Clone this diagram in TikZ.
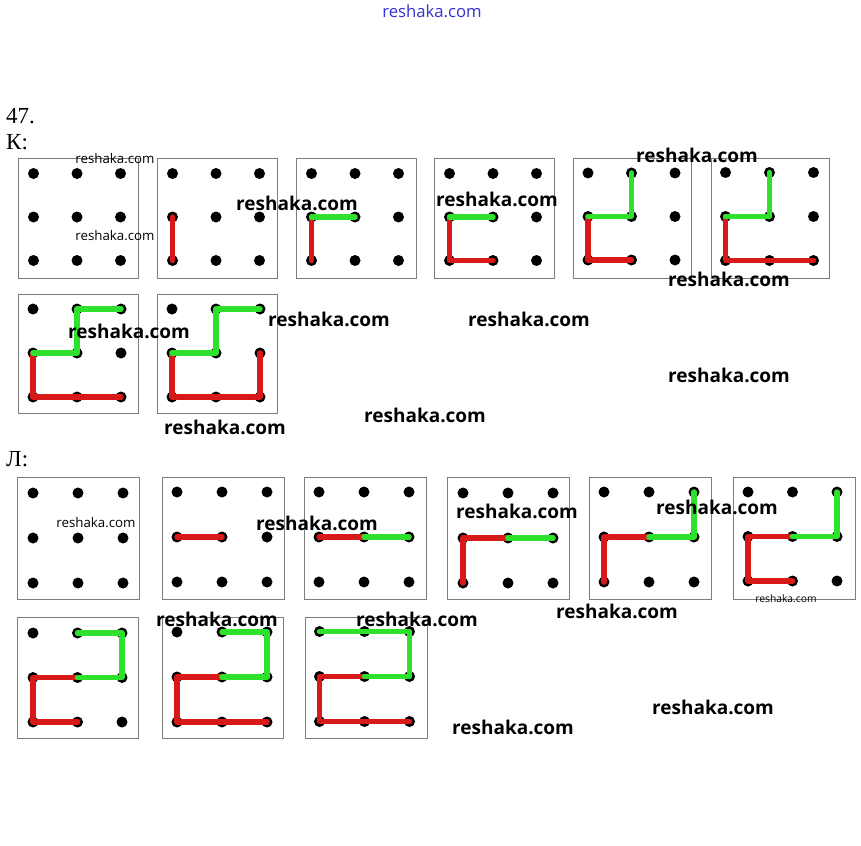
\documentclass[tikz,border=0pt]{standalone}
\usepackage{fontspec}
\setmainfont{Liberation Serif}
\newfontfamily\wmfont{Open Sans}
\definecolor{pathred}{RGB}{215,25,25}
\definecolor{pathgreen}{RGB}{45,225,45}
\definecolor{boxgray}{RGB}{125,125,125}
\definecolor{linkblue}{RGB}{50,50,210}
\tikzset{
  dotnode/.style={circle,fill=black,inner sep=0pt,minimum size=11pt},
  panelbox/.style={draw=boxgray,line width=1.2pt},
  redpath/.style={draw=pathred,line width=5.5pt,line cap=round,line join=round},
  greenpath/.style={draw=pathgreen,line width=5.5pt,line cap=round,line join=round},
  wmbig/.style={font=\wmfont\bfseries\fontsize{19}{22}\selectfont,text=black,inner sep=0pt},
  wmsmall/.style={font=\wmfont\fontsize{13.3}{15}\selectfont,text=black,inner sep=0pt},
  wmtiny/.style={font=\wmfont\fontsize{10.3}{12}\selectfont,text=black,inner sep=0pt},
  heading/.style={font=\fontsize{23}{26}\selectfont,anchor=base west,inner sep=0pt}
}
% #1 name, #2 left, #3 top, #4 width, #5 height, #6 offset, #7 spacing
\newcommand\gridpanel[7]{%
  \node[panelbox,inner sep=0pt,minimum width=#4pt,minimum height=#5pt,anchor=north west] (#1) at (#2,#3) {};
  \foreach \i in {0,1,2}{\foreach \j in {0,1,2}{%
    \node[dotnode] (#1-\i-\j) at ({#2+#6+\i*#7},{#3+#6+\j*#7}) {};}}%
}
\begin{document}
\begin{tikzpicture}[x=1pt,y=-1pt]
\useasboundingbox[fill=white] (0,0) rectangle (861,845);
% headings
\node[heading] (n47) at (6,124) {47.};
\node[heading] (hK) at (6,150) {К:};
\node[heading] (hL) at (6,466) {Л:};
% K row 1
\gridpanel{ka}{18}{158}{120}{120}{15.5}{43.5}
\gridpanel{kb}{157}{158}{120}{120}{15.5}{43.5}
\gridpanel{kc}{296}{158}{120}{120}{15.5}{43.5}
\gridpanel{kd}{434}{158}{120}{120}{15.5}{43.5}
\gridpanel{ke}{573}{158}{118}{120}{15}{43.5}
\gridpanel{kf}{711}{158}{118}{120}{14.5}{44}
% K row 2
\gridpanel{kg}{18}{294}{120}{119}{15}{44}
\gridpanel{kh}{157}{294}{120}{119}{15}{44}
% L row 1
\gridpanel{la}{17}{477}{122}{122}{16}{45}
\gridpanel{lb}{162}{477}{122}{122}{15}{45}
\gridpanel{lc}{304}{477}{122}{122}{15}{45}
\gridpanel{ld}{447}{477}{122}{122}{16}{45}
\gridpanel{le}{589}{477}{122}{122}{15}{45}
\gridpanel{lf}{733}{477}{122}{122}{15}{44.5}
% L row 2
\gridpanel{lg}{17}{617}{121}{121}{16}{44.5}
\gridpanel{lh}{162}{617}{121}{121}{15}{45}
\gridpanel{li}{305}{617}{122}{121}{14.5}{45}
% K paths
\draw[redpath] (kb-0-1.center) -- (kb-0-2.center);
\draw[redpath] (kc-0-2.center) -- (kc-0-1.center);
\draw[greenpath] (kc-0-1.center) -- (kc-1-1.center);
\draw[redpath] (kd-1-2.center) -- (kd-0-2.center) -- (kd-0-1.center);
\draw[greenpath] (kd-0-1.center) -- (kd-1-1.center);
\draw[redpath] (ke-1-2.center) -- (ke-0-2.center) -- (ke-0-1.center);
\draw[greenpath] (ke-0-1.center) -- (ke-1-1.center) -- (ke-1-0.center);
\draw[redpath] (kf-2-2.center) -- (kf-0-2.center) -- (kf-0-1.center);
\draw[greenpath] (kf-0-1.center) -- (kf-1-1.center) -- (kf-1-0.center);
\draw[redpath] (kg-2-2.center) -- (kg-0-2.center) -- (kg-0-1.center);
\draw[greenpath] (kg-0-1.center) -- (kg-1-1.center) -- (kg-1-0.center) -- (kg-2-0.center);
\draw[redpath] (kh-2-1.center) -- (kh-2-2.center) -- (kh-0-2.center) -- (kh-0-1.center);
\draw[greenpath] (kh-0-1.center) -- (kh-1-1.center) -- (kh-1-0.center) -- (kh-2-0.center);
% L paths
\draw[redpath] (lb-0-1.center) -- (lb-1-1.center);
\draw[redpath] (lc-0-1.center) -- (lc-1-1.center);
\draw[greenpath] (lc-1-1.center) -- (lc-2-1.center);
\draw[redpath] (ld-0-2.center) -- (ld-0-1.center) -- (ld-1-1.center);
\draw[greenpath] (ld-1-1.center) -- (ld-2-1.center);
\draw[redpath] (le-0-2.center) -- (le-0-1.center) -- (le-1-1.center);
\draw[greenpath] (le-1-1.center) -- (le-2-1.center) -- (le-2-0.center);
\draw[redpath] (lf-1-2.center) -- (lf-0-2.center) -- (lf-0-1.center) -- (lf-1-1.center);
\draw[greenpath] (lf-1-1.center) -- (lf-2-1.center) -- (lf-2-0.center);
\draw[redpath] (lg-1-2.center) -- (lg-0-2.center) -- (lg-0-1.center) -- (lg-1-1.center);
\draw[greenpath] (lg-1-1.center) -- (lg-2-1.center) -- (lg-2-0.center) -- (lg-1-0.center);
\draw[redpath] (lh-2-2.center) -- (lh-0-2.center) -- (lh-0-1.center) -- (lh-1-1.center);
\draw[greenpath] (lh-1-1.center) -- (lh-2-1.center) -- (lh-2-0.center) -- (lh-1-0.center);
\draw[redpath] (li-2-2.center) -- (li-0-2.center) -- (li-0-1.center) -- (li-1-1.center);
\draw[greenpath] (li-1-1.center) -- (li-2-1.center) -- (li-2-0.center) -- (li-0-0.center);
% watermarks
\node[font=\wmfont\fontsize{16.7}{19}\selectfont,text=linkblue,inner sep=0pt] (w0) at (432,11) {reshaka.com};
\node[wmsmall] (w1) at (115,159) {reshaka.com};
\node[wmsmall] (w2) at (115,236) {reshaka.com};
\node[wmbig] (w3) at (297,203) {reshaka.com};
\node[wmbig] (w4) at (497,199) {reshaka.com};
\node[wmbig] (w5) at (697,155) {reshaka.com};
\node[wmbig] (w6) at (729,279) {reshaka.com};
\node[wmbig] (w7) at (129,331) {reshaka.com};
\node[wmbig] (w8) at (329,319) {reshaka.com};
\node[wmbig] (w9) at (529,319) {reshaka.com};
\node[wmbig] (w10) at (729,375) {reshaka.com};
\node[wmbig] (w11) at (425,415) {reshaka.com};
\node[wmbig] (w12) at (225,427) {reshaka.com};
\node[wmsmall] (w13) at (96,523) {reshaka.com};
\node[wmbig] (w14) at (317,523) {reshaka.com};
\node[wmbig] (w15) at (517,511) {reshaka.com};
\node[wmbig] (w16) at (717,507) {reshaka.com};
\node[wmtiny] (w17) at (786,599) {reshaka.com};
\node[wmbig] (w18) at (617,611) {reshaka.com};
\node[wmbig] (w19) at (217,619) {reshaka.com};
\node[wmbig] (w20) at (417,619) {reshaka.com};
\node[wmbig] (w21) at (513,727) {reshaka.com};
\node[wmbig] (w22) at (713,707) {reshaka.com};
\end{tikzpicture}
\end{document}
